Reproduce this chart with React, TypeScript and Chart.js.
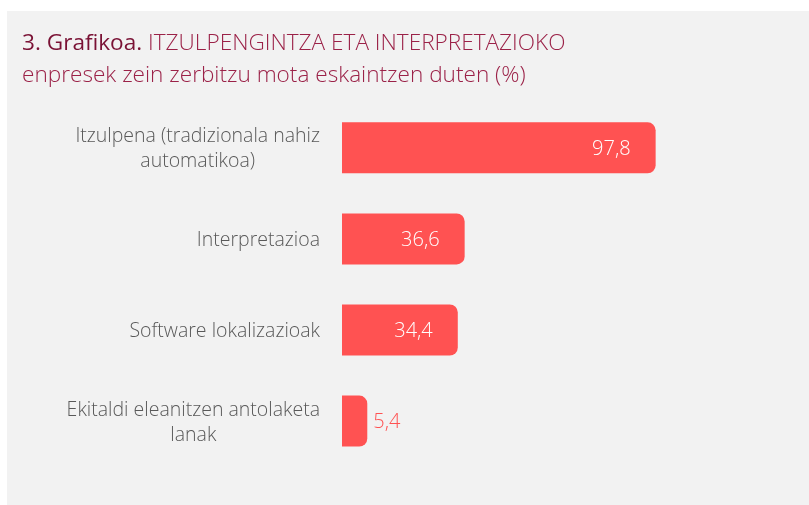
import React, { useEffect, useRef } from "react";
import { Chart, registerables } from "chart.js";

Chart.register(...registerables);

const categories: string[][] = [
  ["Itzulpena (tradizionala nahiz", "automatikoa)"],
  ["Interpretazioa"],
  ["Software lokalizazioak"],
  ["Ekitaldi eleanitzen antolaketa", "lanak"],
];
const values: number[] = [97.8, 36.6, 34.4, 5.4];
const valueLabels: string[] = ["97,8", "36,6", "34,4", "5,4"];

const FONT = "'Open Sans', 'Segoe UI', sans-serif";
const BAR = "#FF5252";

const labelsPlugin = {
  id: "customLabels",
  afterDatasetsDraw(chart: any) {
    const { ctx, chartArea } = chart;
    const meta = chart.getDatasetMeta(0);
    const yScale = chart.scales.y;
    ctx.save();
    ctx.font = `300 19.5px ${FONT}`;
    ctx.fillStyle = "#595959";
    ctx.textBaseline = "middle";
    ctx.textAlign = "center";
    const rightEdge = chartArea.left - 22;
    const lineH = 25;
    categories.forEach((lines, i) => {
      const cy = yScale.getPixelForValue(i) + 1.5;
      const w = Math.max(...lines.map((l) => ctx.measureText(l).width));
      const cx = rightEdge - w / 2;
      const y0 = cy - ((lines.length - 1) * lineH) / 2;
      lines.forEach((l, j) => ctx.fillText(l, cx, y0 + j * lineH));
    });
    ctx.font = `300 20px ${FONT}`;
    meta.data.forEach((bar: any, i: number) => {
      const text = valueLabels[i];
      const inside = bar.x - bar.base > 60;
      if (inside) {
        ctx.fillStyle = "#FFFFFF";
        ctx.textAlign = "right";
        ctx.fillText(text, bar.x - 25, bar.y + 1.5);
      } else {
        ctx.fillStyle = BAR;
        ctx.textAlign = "left";
        ctx.fillText(text, bar.x + 6, bar.y + 1.5);
      }
    });
    ctx.restore();
  },
};

export default function App() {
  const ref = useRef<HTMLCanvasElement | null>(null);
  useEffect(() => {
    if (!ref.current) return;
    const chart = new Chart(ref.current, {
      type: "bar",
      data: {
        labels: categories.map((c) => c.join(" ")),
        datasets: [
          {
            data: values,
            base: -2.7,
            backgroundColor: BAR,
            borderRadius: 8,
            borderSkipped: "start",
            categoryPercentage: 1,
            barPercentage: 0.56,
          } as any,
        ],
      },
      options: {
        indexAxis: "y",
        responsive: false,
        maintainAspectRatio: false,
        animation: false,
        layout: { padding: { left: 335, right: 146.5, top: 91.3, bottom: 38.4 } },
        plugins: { legend: { display: false }, tooltip: { enabled: false }, title: { display: false } },
        scales: {
          x: { display: false, min: -2.7, max: 100, grid: { display: false } },
          y: { display: false, grid: { display: false } },
        },
      },
      plugins: [labelsPlugin],
    });
    return () => chart.destroy();
  }, []);

  return (
    <div
      style={{
        position: "absolute",
        top: 11,
        left: 7,
        width: 802,
        height: 494,
        background: "#F2F2F2",
        overflow: "hidden",
      }}
    >
      <div
        style={{
          position: "absolute",
          left: 15,
          top: 15,
          fontFamily: FONT,
          fontSize: 22.6,
          lineHeight: "32px",
          fontWeight: 300,
          color: "#9B2248",
          whiteSpace: "nowrap",
        }}
      >
        <div>
          <span style={{ fontWeight: 500, color: "#7A1235" }}>3. Grafikoa.</span> ITZULPENGINTZA ETA INTERPRETAZIOKO
        </div>
        <div>enpresek zein zerbitzu mota eskaintzen duten (%)</div>
      </div>
      <canvas ref={ref} width={802} height={494} style={{ display: "block" }} />
    </div>
  );
}
